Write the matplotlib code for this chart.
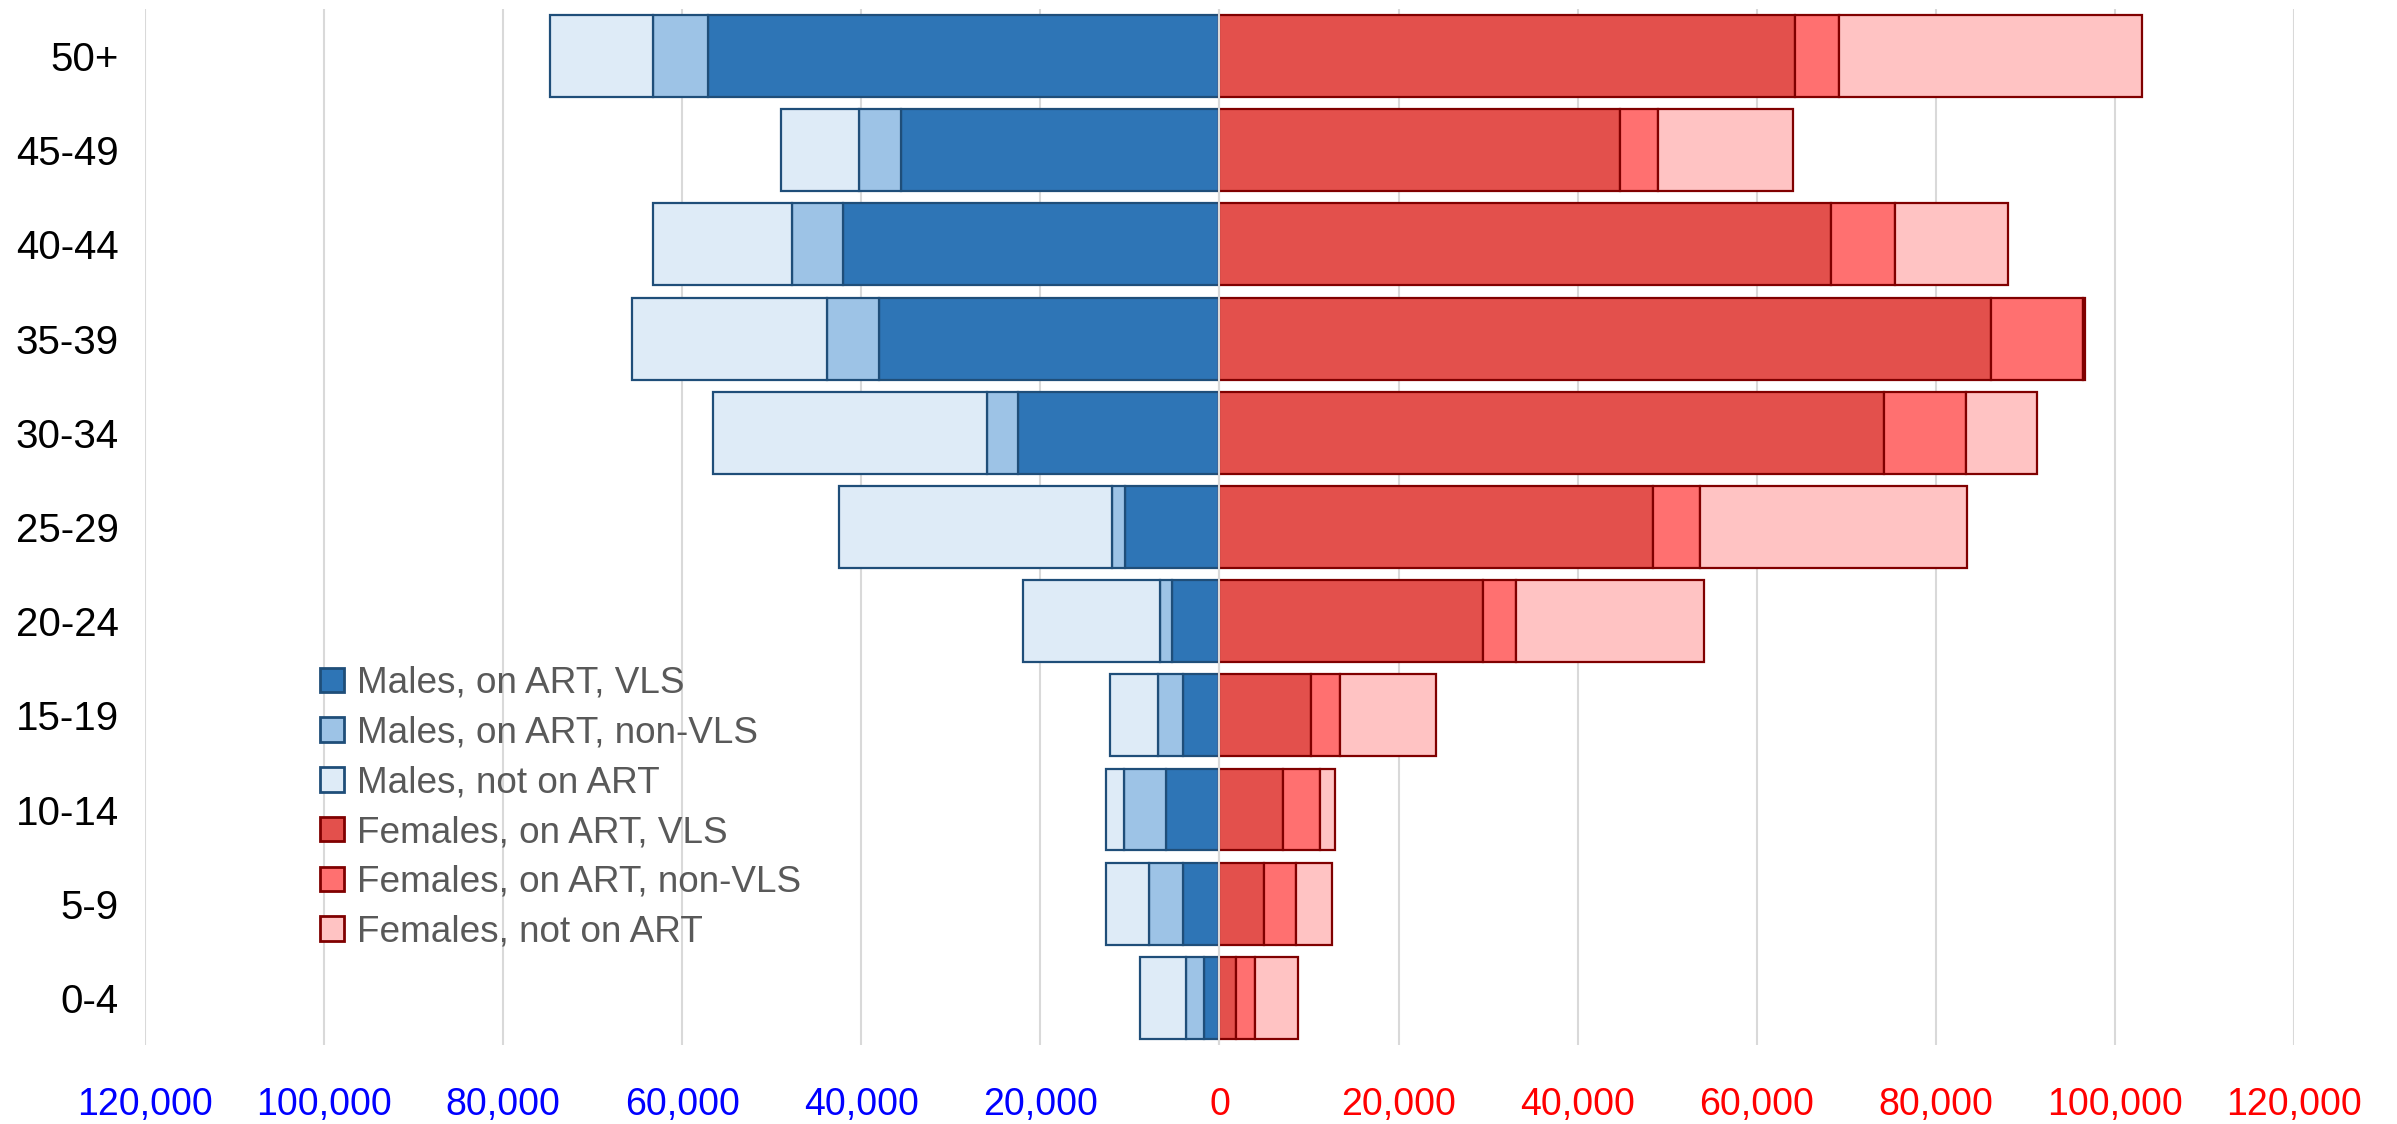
import matplotlib
matplotlib.use("Agg")
import matplotlib.pyplot as plt
from matplotlib.patches import Patch
from matplotlib.ticker import FixedLocator, FixedFormatter
import numpy as np

categories = ['0-4', '5-9', '10-14', '15-19', '20-24', '25-29', '30-34', '35-39', '40-44', '45-49', '50+']
male_vls = [1690, 4100, 5970, 4100, 5260, 10520, 22470, 37980, 42000, 35580, 57070]
male_nonvls = [2050, 3750, 4730, 2770, 1430, 1430, 3480, 5890, 5700, 4720, 6150]
male_not = [5090, 4810, 1960, 5350, 15240, 30490, 30580, 21760, 15520, 8650, 11500]
female_vls = [1860, 4970, 7100, 10210, 29470, 48470, 74210, 86200, 68350, 44740, 64270]
female_nonvls = [2130, 3550, 4080, 3280, 3640, 5240, 9140, 10290, 7110, 4260, 4970]
female_not = [4800, 4080, 1690, 10740, 20950, 29820, 7990, 200, 12600, 15000, 33820]
xticks = [-120000, -100000, -80000, -60000, -40000, -20000, 0, 20000, 40000, 60000, 80000, 100000, 120000]
xtick_labels = ['120,000', '100,000', '80,000', '60,000', '40,000', '20,000', '0',
                '20,000', '40,000', '60,000', '80,000', '100,000', '120,000']
legend_labels = ['Males, on ART, VLS', 'Males, on ART, non-VLS', 'Males, not on ART',
                 'Females, on ART, VLS', 'Females, on ART, non-VLS', 'Females, not on ART']

plt.rcParams['font.family'] = ['Liberation Sans', 'DejaVu Sans']

m_cols = ['#2E75B6', '#9DC3E6', '#DEEBF7']
f_cols = ['#E3504C', '#FF7070', '#FFC3C3']
m_edge = '#1F4E79'
f_edge = '#800000'

fig = plt.figure(figsize=(23.97, 11.24), dpi=100)
ax = fig.add_axes([0.0605, 0.0703, 0.8965, 0.9217])

y = np.arange(len(categories))
h = 0.87
mv = np.array(male_vls); mn = np.array(male_nonvls); mo = np.array(male_not)
fv = np.array(female_vls); fn = np.array(female_nonvls); fo = np.array(female_not)

lw = 1.6
ax.barh(y, -mv, height=h, color=m_cols[0], edgecolor=m_edge, linewidth=lw, zorder=3)
ax.barh(y, -mn, left=-mv, height=h, color=m_cols[1], edgecolor=m_edge, linewidth=lw, zorder=3)
ax.barh(y, -mo, left=-(mv + mn), height=h, color=m_cols[2], edgecolor=m_edge, linewidth=lw, zorder=3)
ax.barh(y, fv, height=h, color=f_cols[0], edgecolor=f_edge, linewidth=lw, zorder=3)
ax.barh(y, fn, left=fv, height=h, color=f_cols[1], edgecolor=f_edge, linewidth=lw, zorder=3)
ax.barh(y, fo, left=fv + fn, height=h, color=f_cols[2], edgecolor=f_edge, linewidth=lw, zorder=3)

ax.axvline(0, color='#D9D9D9', lw=1.5, zorder=4)

ax.set_xlim(-120000, 120000)
ax.set_ylim(-0.5, len(categories) - 0.5)
ax.xaxis.set_major_locator(FixedLocator(xticks))
ax.xaxis.set_major_formatter(FixedFormatter(xtick_labels))
ax.set_yticks(y)
ax.set_yticklabels(categories)
ax.grid(axis='x', color='#D9D9D9', lw=1.5, zorder=0)
ax.set_axisbelow(True)
for s in ax.spines.values():
    s.set_visible(False)
ax.tick_params(axis='both', length=0)
ax.tick_params(axis='x', labelsize=27, pad=30)
ax.tick_params(axis='y', labelsize=29, pad=19)
for lab, v in zip(ax.get_xticklabels(), xticks):
    lab.set_color('#0000FF' if v < 0 else '#FF0000')

handles = [Patch(facecolor=c, edgecolor=m_edge, linewidth=2) for c in m_cols] + \
          [Patch(facecolor=c, edgecolor=f_edge, linewidth=2) for c in f_cols]
leg = ax.legend(handles, legend_labels, loc='upper left', bbox_to_anchor=(0.0815, 0.366),
                fontsize=26.6, frameon=False, handlelength=0.65, handleheight=0.65,
                handletextpad=0.35, labelspacing=0.4, borderaxespad=0, borderpad=0)
for t in leg.get_texts():
    t.set_color('#595959')

fig.savefig('out.png', dpi=100)
